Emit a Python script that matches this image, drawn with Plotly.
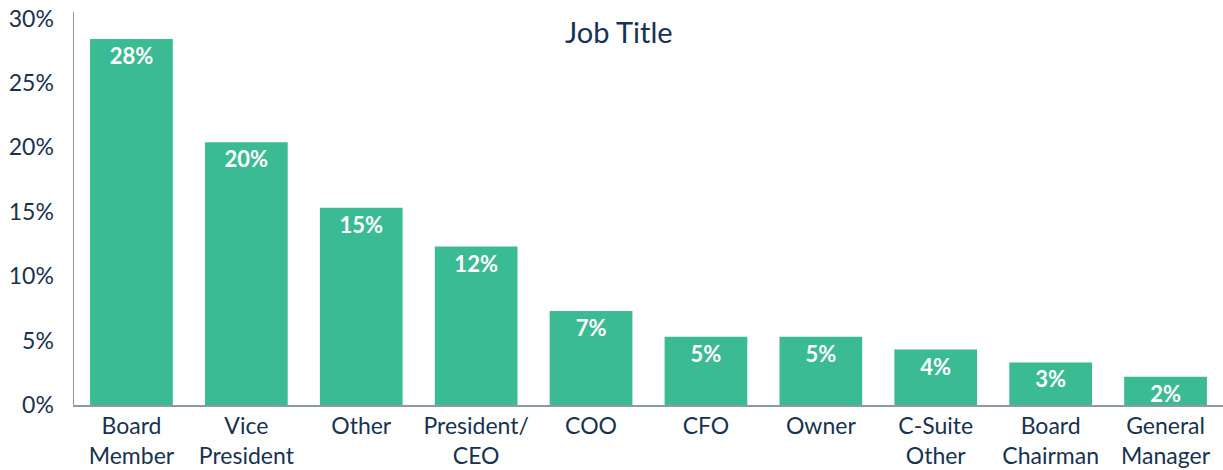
import plotly.graph_objects as go

categories = ["Board<br>Member", "Vice<br>President", "Other", "President/<br>CEO", "COO",
              "CFO", "Owner", "C-Suite<br>Other", "Board<br>Chairman", "General<br>Manager"]
values = [28.4, 20.4, 15.3, 12.3, 7.3, 5.3, 5.3, 4.3, 3.3, 2.2]
labels = ["28%", "20%", "15%", "12%", "7%", "5%", "5%", "4%", "3%", "2%"]
y_ticks = [0, 5, 10, 15, 20, 25, 30]
y_tick_labels = ["0%", "5%", "10%", "15%", "20%", "25%", "30%"]

navy = "#17324f"
green = "#3abb93"
axis_gray = "#8f99a3"

fig = go.Figure(go.Bar(
    x=categories, y=values, text=labels,
    textposition="inside", insidetextanchor="end",
    textangle=0, constraintext="none",
    textfont=dict(family="Lato", size=22, color="white", weight="bold"),
    marker=dict(color=green, line=dict(width=0)),
    hoverinfo="skip",
))

fig.update_layout(
    width=1223, height=470,
    margin=dict(l=74, r=0, t=12, b=65, autoexpand=False),
    paper_bgcolor="white", plot_bgcolor="white",
    bargap=0.28,
    showlegend=False,
    title=dict(text="Job Title", x=0.506, xanchor="center", y=0.93, yanchor="middle",
               xref="container", yref="container",
               font=dict(family="Lato", size=29, color=navy)),
    font=dict(family="Lato", color=navy),
)
fig.update_xaxes(
    showline=True, linecolor=axis_gray, linewidth=1.5, automargin=False,
    showgrid=False, ticks="", ticklabeloverflow="allow",
    tickfont=dict(family="Lato", size=23, color=navy),
)
fig.update_yaxes(
    range=[0, 30.5], tickmode="array", tickvals=y_ticks, ticktext=y_tick_labels,
    showline=True, linecolor=axis_gray, linewidth=1.5, automargin=False,
    showgrid=False, zeroline=False, ticks="", ticklabelstandoff=14,
    ticklabeloverflow="allow",
    tickfont=dict(family="Lato", size=23, color=navy),
)

# Remove the default page margin so the figure fills the window exactly.
fig.write_html("out.html",
               config={"displayModeBar": False, "staticPlot": True},
               post_script="document.body.style.margin='0px';document.body.style.overflow='hidden';")
